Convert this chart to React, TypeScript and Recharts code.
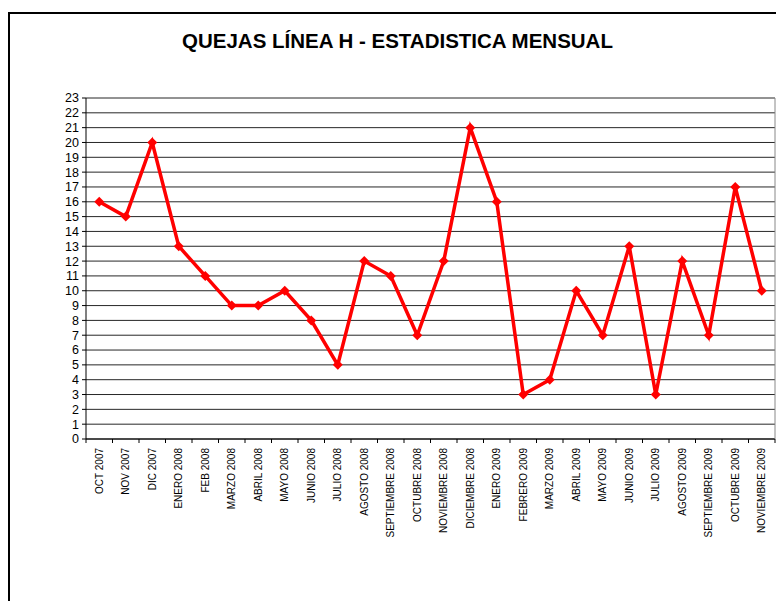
import React from "react";
import { LineChart, Line, XAxis, YAxis, CartesianGrid } from "recharts";

const categories = [
  "OCT 2007", "NOV 2007", "DIC 2007", "ENERO 2008", "FEB 2008", "MARZO 2008",
  "ABRIL 2008", "MAYO 2008", "JUNIO 2008", "JULIO 2008", "AGOSTO 2008",
  "SEPTIEMBRE 2008", "OCTUBRE 2008", "NOVIEMBRE 2008", "DICIEMBRE 2008",
  "ENERO 2009", "FEBRERO 2009", "MARZO 2009", "ABRIL 2009", "MAYO 2009",
  "JUNIO 2009", "JULIO 2009", "AGOSTO 2009", "SEPTIEMBRE 2009",
  "OCTUBRE 2009", "NOVIEMBRE 2009",
];
const quejas = [16, 15, 20, 13, 11, 9, 9, 10, 8, 5, 12, 11, 7, 12, 21, 16, 3, 4, 10, 7, 13, 3, 12, 7, 17, 10];
const yTicks = Array.from({ length: 24 }, (_, i) => i);

const data = categories.map((c, i) => ({ mes: c, quejas: quejas[i] }));

const FONT = "'Liberation Sans', Arial, sans-serif";
const HALF = 13.25;

const XTick = (props: any) => {
  const { x, payload, index } = props;
  const axisY = 439;
  return (
    <g>
      <line x1={x + HALF} y1={axisY} x2={x + HALF} y2={axisY + 4} stroke="#000" />
      {index === 0 && <line x1={x - HALF} y1={axisY} x2={x - HALF} y2={axisY + 4} stroke="#000" />}
      <g transform={`translate(${x},${axisY + 9})`}>
        <text transform="rotate(-90)" textAnchor="end" x={0} y={0} dy="0.35em" fontSize={10} fontFamily={FONT} fill="#000">
          {payload.value}
        </text>
      </g>
    </g>
  );
};

const Diamond = (props: any) => {
  const { cx, cy } = props;
  if (cx == null || cy == null) return null;
  const s = 5;
  return <polygon points={`${cx},${cy - s} ${cx + s},${cy} ${cx},${cy + s} ${cx - s},${cy}`} fill="#FF0000" stroke="none" />;
};

export default function App() {
  return (
    <div style={{ position: "absolute", left: 0, top: 0, width: 776, height: 601, background: "#fff", overflow: "hidden" }}>
      <div style={{ position: "absolute", left: 8, top: 12, width: 800, height: 620, borderLeft: "2px solid #000", borderTop: "2px solid #000" }} />
      <div style={{ position: "absolute", left: 0, top: 29, width: 795, textAlign: "center", fontFamily: FONT, fontWeight: "bold", fontSize: 20.5, color: "#000" }}>
        QUEJAS LÍNEA H - ESTADISTICA MENSUAL
      </div>
      <div style={{ position: "absolute", left: 0, top: 0 }}>
        <LineChart width={776} height={601} data={data} margin={{ top: 98, right: 0, bottom: 0, left: 0 }}>
          <CartesianGrid horizontal vertical={false} stroke="#000" strokeOpacity={0.85} />
          <XAxis
            dataKey="mes"
            interval={0}
            height={162}
            padding={{ left: HALF, right: HALF }}
            tickLine={false}
            axisLine={{ stroke: "#000" }}
            tick={<XTick />}
          />
          <YAxis
            domain={[0, 23]}
            ticks={yTicks}
            interval={0}
            width={86}
            tickSize={4}
            tickMargin={3}
            axisLine={{ stroke: "#000" }}
            tickLine={{ stroke: "#000" }}
            tick={{ fontSize: 12.5, fontFamily: FONT, fill: "#000" }}
          />
          <YAxis yAxisId="r" orientation="right" width={1} tick={false} tickLine={false} axisLine={{ stroke: "#888" }} />
          <Line
            dataKey="quejas"
            stroke="#FF0000"
            strokeWidth={3.5}
            dot={<Diamond />}
            activeDot={false}
            isAnimationActive={false}
          />
        </LineChart>
      </div>
    </div>
  );
}
